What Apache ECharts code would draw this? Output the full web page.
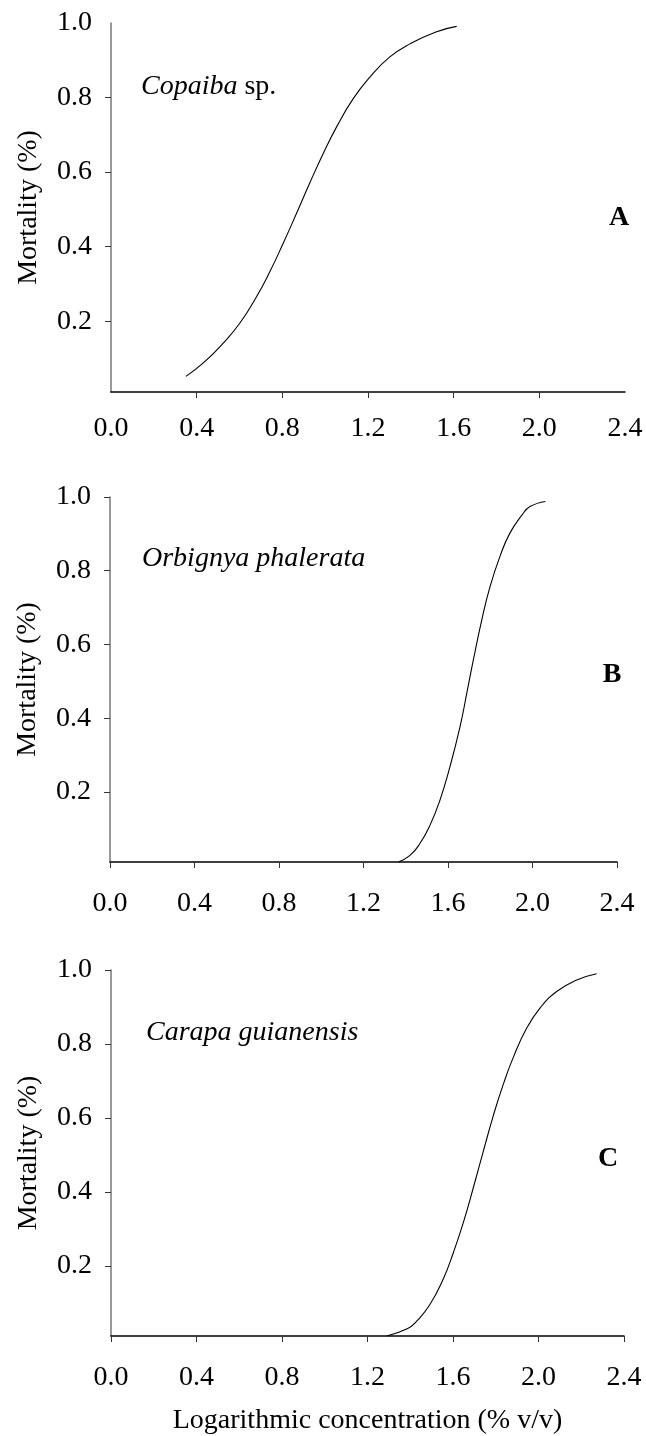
<!DOCTYPE html>
<html>
<head>
<meta charset="utf-8">
<script src="https://cdn.jsdelivr.net/npm/echarts@6/dist/echarts.min.js"></script>
<style>
  html, body { margin: 0; padding: 0; background: #fff; }
  #chart-container { width: 646px; height: 1436px; }
</style>
</head>
<body>
<div id="chart-container"></div>
<script>
// values (log concentration, mortality)
const concA = [0.35, 0.431, 0.524, 0.602, 0.68, 0.742, 0.804, 0.867, 0.929, 0.991, 1.054, 1.131, 1.209, 1.302, 1.396, 1.517, 1.614];
const mortA = [0.052, 0.088, 0.141, 0.195, 0.266, 0.333, 0.409, 0.490, 0.572, 0.650, 0.722, 0.797, 0.855, 0.909, 0.944, 0.976, 0.991];

const concB = [1.365, 1.42, 1.467, 1.515, 1.562, 1.609, 1.657, 1.689, 1.72, 1.76, 1.799, 1.846, 1.893, 1.949, 1.988, 2.061];
const mortB = [0.01, 0.028, 0.06, 0.11, 0.178, 0.268, 0.377, 0.468, 0.558, 0.667, 0.757, 0.839, 0.902, 0.950, 0.974, 0.988];

const concC = [1.29, 1.388, 1.43, 1.492, 1.555, 1.602, 1.649, 1.696, 1.743, 1.79, 1.836, 1.883, 1.945, 2.007, 2.085, 2.179, 2.272];
const mortC = [0.01, 0.03, 0.05, 0.095, 0.165, 0.236, 0.318, 0.413, 0.512, 0.609, 0.692, 0.765, 0.843, 0.897, 0.942, 0.973, 0.99];

const xTicks = [0, 0.4, 0.8, 1.2, 1.6, 2.0, 2.4];
const yTicks = [0.2, 0.4, 0.6, 0.8, 1.0];
const species = ['Copaiba', 'Orbignya phalerata', 'Carapa guianensis'];
const panelLetters = ['A', 'B', 'C'];

const FONT = '"Liberation Serif", "Times New Roman", serif';

const zip = (xs, ys) => xs.map((x, i) => [x, ys[i]]);

const start = () => {
  const chartDom = document.getElementById('chart-container');
  const myChart = echarts.init(chartDom, null, { renderer: 'canvas' });

  const grids = [
    { left: 111, top: 23, width: 514, height: 369 },
    { left: 110, top: 497, width: 507, height: 365 },
    { left: 111, top: 970, width: 513, height: 368 }
  ];

  // panel A has no end ticks on its axes
  const xTickVals = [xTicks.slice(1, -1), xTicks, xTicks];
  const yTickVals = [yTicks.slice(0, -1), yTicks, yTicks];
  const xLabelMargin = [23, 28, 28];

  const xAxes = grids.map((g, i) => ({
    type: 'value',
    gridIndex: i,
    min: 0,
    max: 2.4,
    interval: 0.4,
    name: i === 2 ? 'Logarithmic concentration (% v/v)' : '',
    nameLocation: 'middle',
    nameGap: 71,
    nameTextStyle: { fontFamily: FONT, fontSize: 28, color: '#000' },
    axisLine: { lineStyle: { color: '#000', width: 1.5 } },
    axisTick: { customValues: xTickVals[i], length: 6, lineStyle: { color: '#333', width: 1 } },
    axisLabel: {
      customValues: xTicks,
      margin: xLabelMargin[i],
      fontFamily: FONT, fontSize: 28, color: '#000',
      formatter: v => v.toFixed(1)
    },
    splitLine: { show: false }
  }));

  const yAxes = grids.map((g, i) => ({
    type: 'value',
    gridIndex: i,
    min: 0.01,
    max: 1.0,
    name: 'Mortality (%)',
    nameLocation: 'middle',
    nameGap: 68,
    nameTextStyle: { fontFamily: FONT, fontSize: 28, color: '#000' },
    axisLine: { lineStyle: { color: '#777', width: 1.5 } },
    axisTick: { customValues: yTickVals[i], length: 6, lineStyle: { color: '#333', width: 1 } },
    axisLabel: {
      customValues: yTicks,
      margin: 19,
      fontFamily: FONT, fontSize: 28, color: '#000',
      formatter: v => v.toFixed(1)
    },
    splitLine: { show: false }
  }));

  const curves = [zip(concA, mortA), zip(concB, mortB), zip(concC, mortC)];
  const series = curves.map((d, i) => ({
    type: 'line',
    xAxisIndex: i,
    yAxisIndex: i,
    data: d,
    smooth: 0.5,
    showSymbol: false,
    lineStyle: { color: '#000', width: 1.1 },
    silent: true
  }));

  const speciesPos = [[141, 89], [142, 561], [146, 1035]];
  const letterPos = [[619, 218], [612, 675], [608, 1159]];

  const graphic = [];
  speciesPos.forEach((p, i) => {
    graphic.push({
      type: 'text',
      left: p[0],
      top: p[1] - 16,
      style: {
        text: i === 0 ? '{i|' + species[0] + '} sp.' : '{i|' + species[i] + '}',
        font: '28px ' + FONT,
        fill: '#000',
        rich: { i: { fontStyle: 'italic', fontFamily: FONT, fontSize: 28 } }
      }
    });
  });
  letterPos.forEach((p, i) => {
    graphic.push({
      type: 'text',
      x: p[0],
      y: p[1],
      style: {
        text: panelLetters[i],
        font: 'bold 28px ' + FONT,
        fill: '#000',
        textAlign: 'center',
        textVerticalAlign: 'middle'
      }
    });
  });

  const option = {
    animation: false,
    backgroundColor: '#fff',
    grid: grids,
    xAxis: xAxes,
    yAxis: yAxes,
    series: series,
    graphic: graphic
  };
  myChart.setOption(option);
};

start();
</script>
</body>
</html>
